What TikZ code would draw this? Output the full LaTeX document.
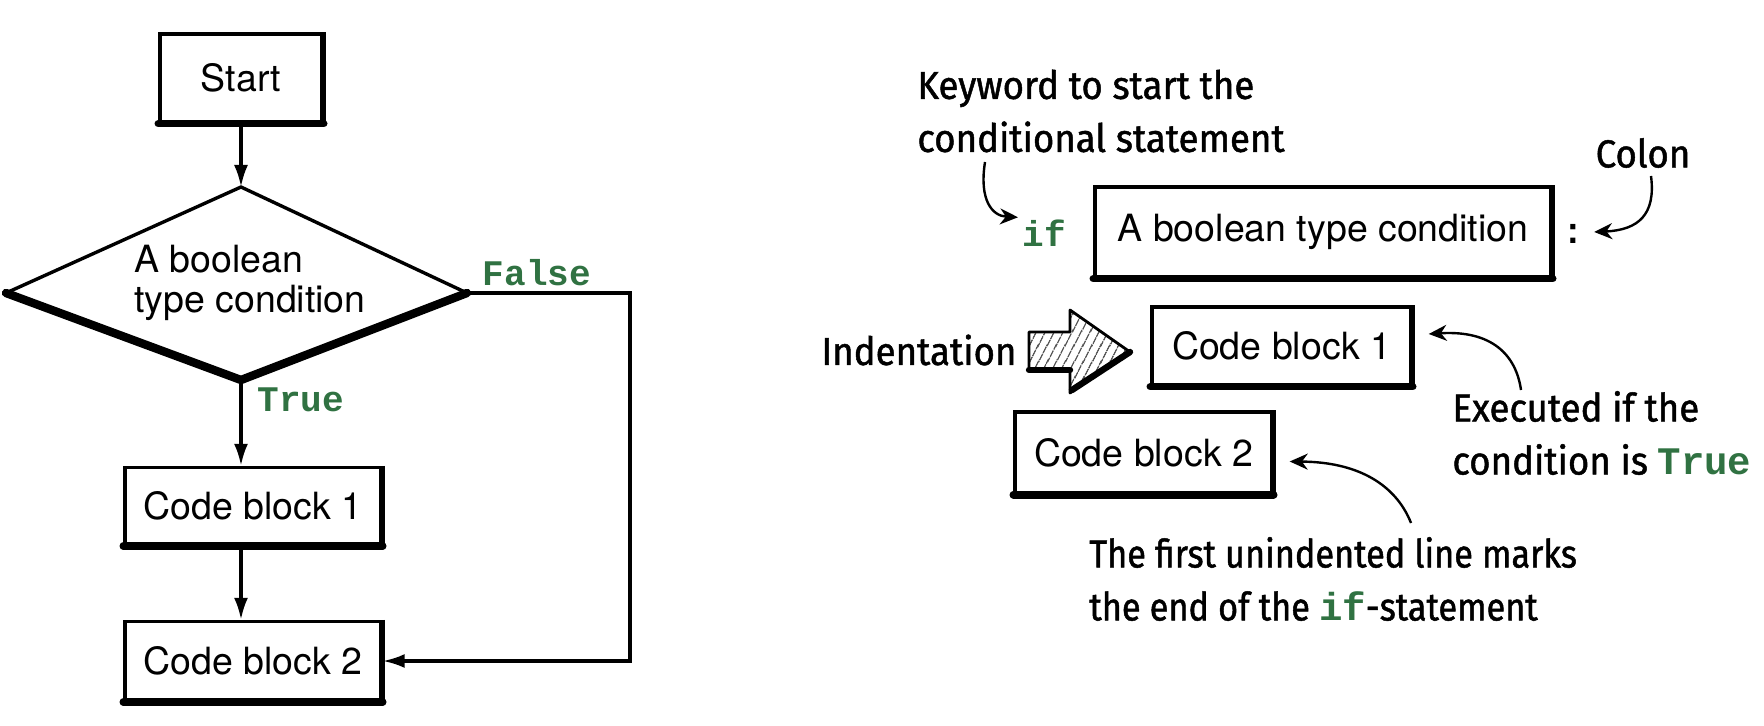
\documentclass[tikz,border=0pt]{standalone}
\usepackage{fontspec}
\setmainfont{TeX Gyre Heros}
\newfontfamily\handf[FakeStretch=0.94,FakeBold=1.2]{Fira Sans}
\newfontfamily\handn[FakeStretch=0.88,FakeBold=1.2]{Fira Sans}
\newfontfamily\codef{Liberation Mono}
\usetikzlibrary{arrows.meta,patterns.meta,calc}
\definecolor{kwgreen}{RGB}{48,114,66}
\newcommand{\kw}[1]{{\codef\bfseries\color{kwgreen}#1}}
\begin{document}
\begin{tikzpicture}[x=0.5pt,y=-0.5pt,
  box/.style={draw, line width=1.7pt, inner sep=0pt, font=\fontsize{18.75}{22}\selectfont},
  hand/.style={font=\handf\fontsize{19.5}{26.5}\selectfont, align=left, inner sep=0pt},
  code/.style={font=\codef\bfseries\fontsize{18}{22}\selectfont, text=kwgreen, inner sep=0pt},
  flow/.style={line width=1.6pt, -{Latex[length=11pt,width=7pt]}},
  note/.style={line width=1.2pt, -{Stealth[length=9pt,width=8pt]}},
  shade/.style={line width=3.8pt, line cap=round},
  rshade/.style={line width=2.6pt},
  bshade/.style={line width=4.2pt, line cap=round, line join=round}]
\useasboundingbox (0,0) rectangle (1764,726);

% ---------------- left: flowchart ----------------
\node[box, minimum width=81pt, minimum height=44pt] (start) at (241,78) {Start};
\draw[shade] (start.south west) -- (start.south east);
\draw[rshade] (start.north east) -- (start.south east);

\coordinate (dt) at (241,187);
\coordinate (dl) at (6,293);
\coordinate (dr) at (467,293);
\coordinate (db) at (241,380);
\draw[line width=1.7pt, line join=round] (dl) -- (dt) -- (dr);
\draw[bshade] (dl) -- (db) -- (dr);
\node[inner sep=0pt, align=left, font=\fontsize{18.75}{20}\selectfont] (condtext) at (250,283) {A boolean\\type condition};

\node[code] (false) at (537,273) {False};
\node[code] (true) at (301,400) {True};

\node[box, minimum width=128pt, minimum height=38.5pt] (cb1) at (253,506) {Code block 1};
\draw[shade] (cb1.south west) -- (cb1.south east);
\draw[rshade] (cb1.north east) -- (cb1.south east);
\node[box, minimum width=128pt, minimum height=39.5pt] (cb2) at (253,661) {Code block 2};
\draw[shade] (cb2.south west) -- (cb2.south east);
\draw[rshade] (cb2.north east) -- (cb2.south east);

\draw[flow] (start.south) -- (dt);
\draw[flow] (db) -- (db |- cb1.north);
\draw[flow] (db |- cb1.south) -- (db |- cb2.north);
\coordinate (fr) at (630,293);
\draw[flow] (dr) -- (fr) |- (cb2.east);

% ---------------- right: syntax ----------------
\node[hand, anchor=west] (kwnote) at (917,111) {Keyword to start the\\conditional statement};
\node[code] (if) at (1044,233) {if};
\node[box, minimum width=228pt, minimum height=45pt] (condbox) at (1323,232) {A boolean type condition};
\draw[shade] (condbox.south west) -- (condbox.south east);
\draw[rshade] (condbox.north east) -- (condbox.south east);
\node[inner sep=0pt, font=\codef\bfseries\fontsize{18}{22}\selectfont] (colon) at (1573,234) {:};
\node[hand] (colonnote) at (1643,153) {Colon};

\coordinate (a1s) at (985,162);
\draw[note] (a1s) .. controls (979,200) and (992,216) .. ($(if.north west)+(-4,-2)$);
\coordinate (a2s) at (1651,176);
\draw[note] (a2s) .. controls (1656,215) and (1638,230) .. ($(colon.east)+(10,-2)$);

\node[hand, anchor=west] (indent) at (821,350) {Indentation};
\path[pattern={Lines[angle=62,distance=4pt,line width=0.7pt]}, draw, line width=1.4pt, line join=round]
  (1029,332) -- (1070,332) -- (1070,310) -- (1130,352) -- (1070,393) -- (1070,370) -- (1029,370) -- cycle;
\draw[line width=3.2pt, line cap=round] (1029,370) -- (1070,370);
\draw[line width=3.2pt, line cap=round] (1072,390) -- (1130,352);

\node[box, minimum width=129.5pt, minimum height=39pt] (rcb1) at (1281.5,346) {Code block 1};
\draw[shade] (rcb1.south west) -- (rcb1.south east);
\draw[rshade] (rcb1.north east) -- (rcb1.south east);
\node[box, minimum width=128.5pt, minimum height=40.5pt] (rcb2) at (1143.5,452.5) {Code block 2};
\draw[shade] (rcb2.south west) -- (rcb2.south east);
\draw[rshade] (rcb2.north east) -- (rcb2.south east);

\node[hand, anchor=west] (execnote) at (1452,433) {Executed if the\\condition is \kw{True}};
\coordinate (a3s) at (1521,390);
\draw[note] (a3s) .. controls (1516,355) and (1492,330) .. ($(rcb1.east)+(16,-12)$);

\node[hand, font=\handn\fontsize{19.5}{26.5}\selectfont, anchor=west] (endnote) at (1089,579) {The first unindented line marks\\the end of the \kw{if}-statement};
\coordinate (a4s) at (1411,523);
\draw[note] (a4s) .. controls (1398,490) and (1365,462) .. ($(rcb2.east)+(16,9)$);
\end{tikzpicture}
\end{document}
